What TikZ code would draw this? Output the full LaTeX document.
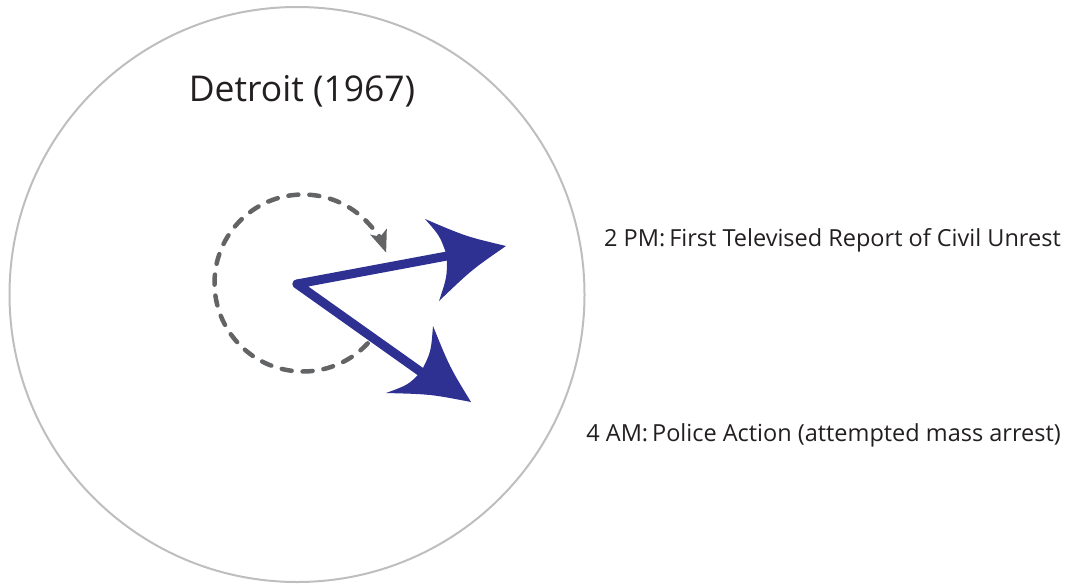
\documentclass[tikz,border=0pt]{standalone}
\usepackage{fontspec}
\setmainfont{Open Sans}
\usetikzlibrary{arrows.meta,calc}
\definecolor{navy}{RGB}{46,49,146}
\definecolor{dgray}{RGB}{99,100,102}
\definecolor{lgray}{RGB}{190,190,190}
\definecolor{ink}{RGB}{35,31,32}
\tikzset{
  ring/.style={draw=lgray, line width=2pt},
  shaft/.style={draw=navy, line width=9pt, line join=round, line cap=butt},
  headfill/.style={fill=navy, draw=none},
  cycle arrow/.style={draw=dgray, line width=4.5pt, line cap=round, dash pattern=on 10pt off 11pt,
     -{Stealth[length=22pt, width=17pt, inset=5pt, line cap=butt, sep=0pt]}},
  label/.style={font=\fontsize{23.5}{28}\selectfont, text=ink, inner sep=0pt, anchor=base east},
  title/.style={font=\fontsize{35.5}{40}\selectfont, text=ink, inner sep=0pt, anchor=base}
}
\begin{document}
\begin{tikzpicture}[x=1pt, y=-1pt]
\useasboundingbox (0,0) rectangle (1073,584);
% outer circle
\node[ring, circle, minimum size=575pt, inner sep=0pt] (city) at (297,294.5) {};
% title
\node[title] (ttl) at (302,101) {Detroit (1967)};
% named points
\coordinate (c) at (297,284);
\coordinate (tipA) at (506,246);
\coordinate (bA1) at (425,219);
\coordinate (bA2) at (439,301);
\coordinate (nA) at (447,256);
\coordinate (tipB) at (471,402);
\coordinate (bB1) at (433,326);
\coordinate (bB2) at (386,393);
\coordinate (nB) at (421,372);
% shafts
\draw[shaft] ($(c)!1.08!(nA)$) -- (c) -- ($(c)!1.08!(nB)$);
\fill[navy] (c) circle (4.5pt);
% heads
\fill[headfill] (tipA) .. controls (466,236.5) .. (bA1) .. controls (440,236) .. (nA)
   .. controls (447,277) .. (bA2) .. controls (472,269.5) .. cycle;
\fill[headfill] (tipB) .. controls (449.8,367.3) .. (bB1) .. controls (431,352) .. (nB)
   .. controls (408,385) .. (bB2) .. controls (430.7,394.2) .. cycle;
% dashed cycle arrow
\coordinate (cc) at (303,283);
\draw[cycle arrow] ([shift={(43:88.5)}]cc) arc[start angle=43, end angle=340, radius=88.5];
% labels
\node[label] (l1) at (1061,246) {2 PM:\,First Televised Report of Civil Unrest};
\node[label] (l2) at (1061,441) {4 AM:\,Police Action (attempted mass arrest)};
\end{tikzpicture}
\end{document}
